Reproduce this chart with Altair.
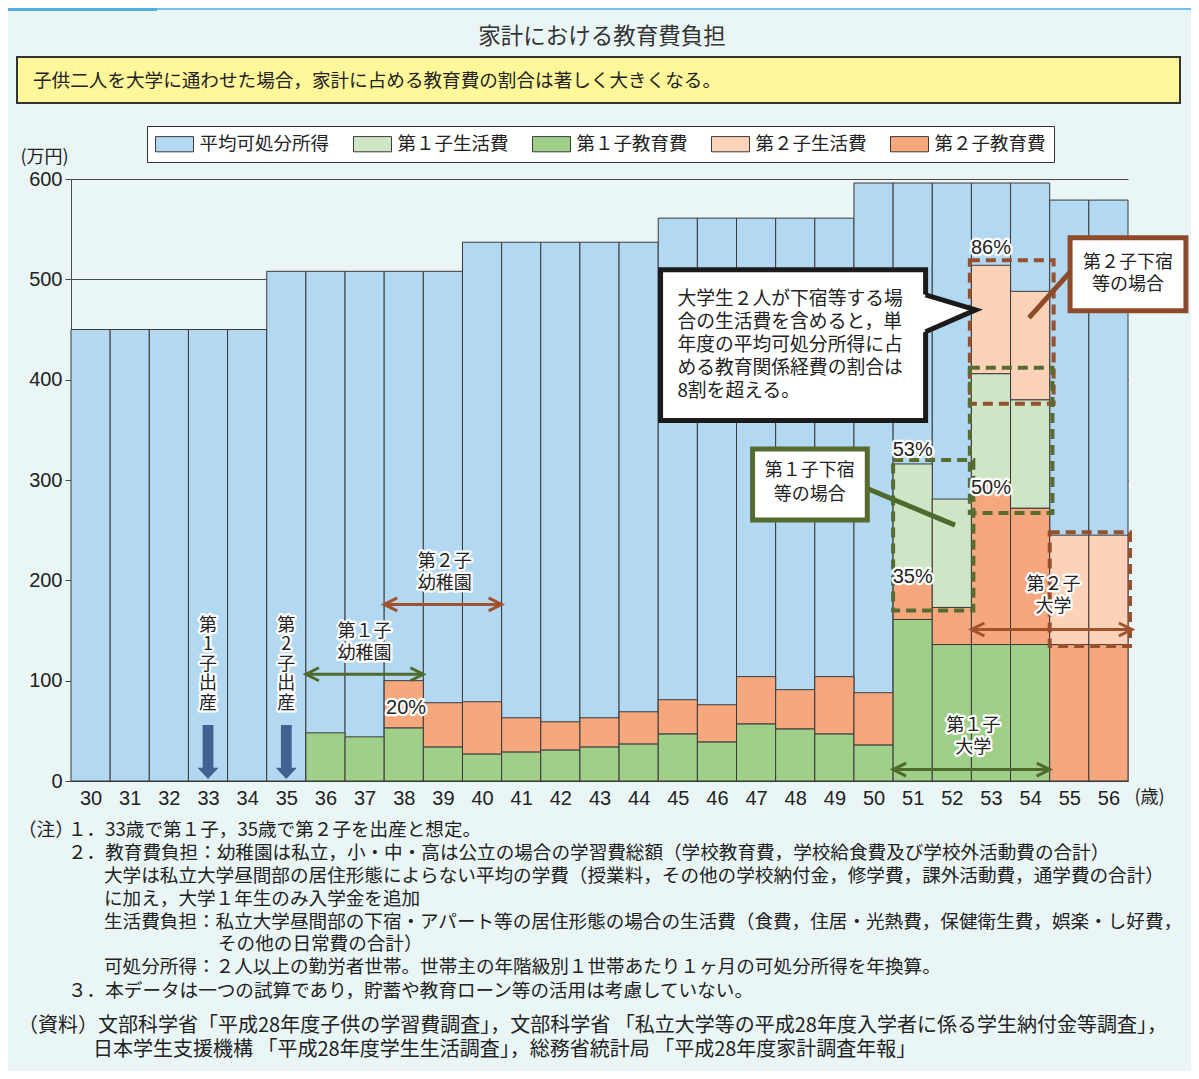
import altair as alt
import pandas as pd

# ---------------- data ----------------
ages = [30, 31, 32, 33, 34, 35, 36, 37, 38, 39, 40, 41, 42, 43, 44, 45, 46, 47, 48, 49,
        50, 51, 52, 53, 54, 55, 56]
income = [450, 450, 450, 450, 450, 508, 508, 508, 508, 508, 537, 537, 537, 537, 537,
          561, 561, 561, 561, 561, 596, 596, 596, 596, 596, 579, 579]
c1_edu = [0, 0, 0, 0, 0, 0, 48, 44, 53, 34, 27, 29, 31, 34, 37, 47, 39, 57, 52, 47,
          36, 161, 136, 136, 136, 0, 0]
c2_edu = [0, 0, 0, 0, 0, 0, 0, 0, 47, 44, 52, 34, 28, 29, 32, 34, 37, 47, 39, 57,
          52, 47, 37, 162, 136, 136, 136]
c1_liv = [0, 0, 0, 0, 0, 0, 0, 0, 0, 0, 0, 0, 0, 0, 0, 0, 0, 0, 0, 0,
          0, 108, 108, 108, 108, 0, 0]
c2_liv = [0, 0, 0, 0, 0, 0, 0, 0, 0, 0, 0, 0, 0, 0, 0, 0, 0, 0, 0, 0,
          0, 0, 0, 108, 108, 109, 109]
categories = ["平均可処分所得", "第１子生活費", "第１子教育費", "第２子生活費", "第２子教育費"]
cat_colors = ["#B3D9F2", "#CFE6C6", "#A0CF8A", "#FCD2B8", "#F5A87D"]
y_ticks = [0, 100, 200, 300, 400, 500, 600]
birth_ages = [33, 35]
pct_labels = ["20%", "53%", "35%", "50%", "86%"]

title_text = "家計における教育費負担"
lead_text = "子供二人を大学に通わせた場合，家計に占める教育費の割合は著しく大きくなる。"
callout_text = "大学生２人が下宿等する場\n合の生活費を含めると，単\n年度の平均可処分所得に占\nめる教育関係経費の割合は\n8割を超える。"
note_lines = [
    "１．33歳で第１子，35歳で第２子を出産と想定。",
    "２．教育費負担：幼稚園は私立，小・中・高は公立の場合の学習費総額（学校教育費，学校給食費及び学校外活動費の合計）",
    "大学は私立大学昼間部の居住形態によらない平均の学費（授業料，その他の学校納付金，修学費，課外活動費，通学費の合計）",
    "に加え，大学１年生のみ入学金を追加",
    "生活費負担：私立大学昼間部の下宿・アパート等の居住形態の場合の生活費（食費，住居・光熱費，保健衛生費，娯楽・し好費，",
    "その他の日常費の合計）",
    "可処分所得：２人以上の勤労者世帯。世帯主の年階級別１世帯あたり１ヶ月の可処分所得を年換算。",
    "３．本データは一つの試算であり，貯蓄や教育ローン等の活用は考慮していない。",
]
source_lines = [
    "（資料）文部科学省「平成28年度子供の学習費調査」，文部科学省 「私立大学等の平成28年度入学者に係る学生納付金等調査」，",
    "日本学生支援機構 「平成28年度学生生活調査」，総務省統計局 「平成28年度家計調査年報」",
]

# ---------------- style ----------------
CJK = "Noto Sans CJK JP"
LAT = "Liberation Sans"
X0, Y0 = 71, 179          # page position of the plot origin
W, H = 1057, 602
BG = "#EAF6F6"
TXT = "#222222"
GREEN_A = "#4F6A2D"
BROWN_A = "#A0522D"
GREEN_D = "#586C30"
BROWN_D = "#94502F"

XS = alt.Scale(domain=[29.5, 56.5], nice=False, zero=False)
YS = alt.Scale(domain=[0, 600], nice=False, zero=False)

XAXIS = alt.Axis(values=ages, format="d", ticks=False, tickSize=0, grid=False,
                 domainColor="#333333", labelFont=LAT, labelFontSize=20, labelColor=TXT,
                 labelPadding=7, labelFlush=False, labelOverlap=False, title=None)
YAXIS = alt.Axis(values=y_ticks, grid=True, gridColor="#4a4a4a", domainColor="#4a4a4a",
                 tickColor="#4a4a4a", tickSize=6, labelFont=LAT, labelFontSize=20,
                 labelColor=TXT, labelPadding=3, labelOverlap=False,
                 title="(万円)", titleAngle=0, titleX=-27, titleY=-22, titleFont=CJK,
                 titleFontSize=18, titleFontWeight="normal", titleColor=TXT,
                 titleAlign="center", titleBaseline="middle")
LEG = alt.Legend(title=None, orient="none", legendX=76, legendY=-53, direction="horizontal",
                 symbolType="M-2,-0.8H2V0.8H-2Z", symbolSize=361, symbolOffset=9.5,
                 symbolStrokeColor="#3a3a3a", symbolStrokeWidth=1, symbolOpacity=1,
                 labelFont=CJK, labelFontSize=18.5, labelColor=TXT, labelOffset=15,
                 columnPadding=21, padding=8, strokeColor="#333333", fillColor="white",
                 labelLimit=300)
color_enc = alt.Color("cat:N", scale=alt.Scale(domain=categories, range=cat_colors), legend=LEG)


def XE(field):
    return alt.X(field, type="quantitative", scale=XS, axis=XAXIS)


def YE(field):
    return alt.Y(field, type="quantitative", scale=YS, axis=YAXIS)


def one():
    return alt.Chart(pd.DataFrame({"k": [0]}))


def pix_rect(x1, y1, x2, y2, **kw):
    return one().mark_rect(**kw).encode(
        x=alt.value(x1 - X0), x2=alt.value(x2 - X0),
        y=alt.value(y1 - Y0), y2=alt.value(y2 - Y0))


def pix_text(x, y, s, size=18.6, font=CJK, align="left", color=TXT):
    return alt.Chart(pd.DataFrame({"t": [s]})).mark_text(
        font=font, fontSize=size, align=align, baseline="middle", color=color).encode(
        x=alt.value(x - X0), y=alt.value(y - Y0), text="t:N")


def data_text(df, size=18, font=CJK, align="center", lh=22, halo=False, color=TXT):
    # y is the centre of the first line
    out = []
    if halo:
        out.append(alt.Chart(df).mark_text(
            font=font, fontSize=size, align=align, baseline="middle", lineBreak="\n",
            lineHeight=lh, fill="white", stroke="white", strokeWidth=4.5,
            strokeJoin="round").encode(x=XE("x"), y=YE("y"), text="t:N"))
    out.append(alt.Chart(df).mark_text(
        font=font, fontSize=size, align=align, baseline="middle", lineBreak="\n",
        lineHeight=lh, fill=color).encode(x=XE("x"), y=YE("y"), text="t:N"))
    return out


def box(df, **kw):
    return alt.Chart(df).mark_rect(**kw).encode(x=XE("x0"), x2="x1:Q", y=YE("y0"), y2="y1:Q")


def seg(df, **kw):
    return alt.Chart(df).mark_line(**kw).encode(x=XE("x"), y=YE("y"), order="o:Q")


layers = []

# income bars (full height)
inc_df = pd.DataFrame({"x0": [a - 0.5 for a in ages], "x1": [a + 0.5 for a in ages],
                       "y0": [0] * len(ages), "y1": income, "cat": categories[0]})
layers.append(alt.Chart(inc_df).mark_rect(stroke="#3a3a3a", strokeWidth=1).encode(
    x=XE("x0"), x2="x1:Q", y=YE("y0"), y2="y1:Q", color=color_enc))

# expense segments stacked from zero
rows = []
for i, a in enumerate(ages):
    base = 0
    for cat, vals in [("第１子教育費", c1_edu), ("第２子教育費", c2_edu),
                      ("第１子生活費", c1_liv), ("第２子生活費", c2_liv)]:
        v = vals[i]
        if v > 0:
            rows.append({"x0": a - 0.5, "x1": a + 0.5, "y0": base, "y1": base + v, "cat": cat})
            base += v
exp_df = pd.DataFrame(rows)
layers.append(alt.Chart(exp_df).mark_rect(stroke="#3a3a3a", strokeWidth=1).encode(
    x=XE("x0"), x2="x1:Q", y=YE("y0"), y2="y1:Q", color=color_enc))

# header decorations
layers.append(pix_rect(8, 8, 1191, 10, color="#6EC3EC"))
layers.append(pix_rect(8, 8, 157, 11, color="#4FAEE0"))
layers.append(pix_text(602, 37, title_text, size=22.5, align="center", color="#333333"))
layers.append(pix_rect(17, 57, 1180, 103, fill="#FFF799", stroke="#333333", strokeWidth=2))
layers.append(pix_text(33, 81, lead_text, size=18.6))

# dashed highlight boxes
dash_df = pd.DataFrame({"x0": [52.46, 54.5, 50.5, 52.46], "x1": [54.6, 56.55, 52.55, 54.57],
                        "y0": [376, 134.5, 170, 267], "y1": [519, 248, 320, 412],
                        "c": [BROWN_D, BROWN_D, GREEN_D, GREEN_D]})
layers.append(alt.Chart(dash_df).mark_rect(filled=False, strokeWidth=4, strokeDash=[10, 6]).encode(
    x=XE("x0"), x2="x1:Q", y=YE("y0"), y2="y1:Q", stroke=alt.Stroke("c:N", scale=None)))

# birth arrows
birth_df = pd.DataFrame({"x": birth_ages, "y": [29, 29]})
layers.append(alt.Chart(birth_df).mark_point(
    shape="M-0.2,-1L0.2,-1L0.2,0.59L0.39,0.59L0,1L-0.39,0.59L-0.2,0.59Z",
    size=2916, filled=True, color="#3F6290", opacity=1, strokeWidth=0).encode(
    x=XE("x"), y=YE("y")))

# period double arrows
arr_df = pd.DataFrame({"xs": [35.5, 37.5, 50.5, 52.5], "xe": [38.5, 40.5, 54.5, 56.6],
                       "y": [106.4, 176, 11.4, 151],
                       "c": [GREEN_A, BROWN_A, GREEN_A, BROWN_A]})
layers.append(alt.Chart(arr_df).mark_rule(strokeWidth=3).encode(
    x=XE("xs"), x2="xe:Q", y=YE("y"), stroke=alt.Stroke("c:N", scale=None)))
layers.append(alt.Chart(arr_df).mark_point(shape="M2,-1L0,0L2,1", size=169, filled=False,
                                           strokeWidth=3, opacity=1).encode(
    x=XE("xs"), y=YE("y"), stroke=alt.Stroke("c:N", scale=None)))
layers.append(alt.Chart(arr_df).mark_point(shape="M-2,-1L0,0L-2,1", size=169, filled=False,
                                           strokeWidth=3, opacity=1).encode(
    x=XE("xe"), y=YE("y"), stroke=alt.Stroke("c:N", scale=None)))

# period labels (y = first line)
lab_df = pd.DataFrame({"x": [37, 39.05, 52.55, 54.6], "y": [148.2, 218.3, 54.8, 195.4],
                       "t": ["第１子\n幼稚園", "第２子\n幼稚園", "第１子\n大学", "第２子\n大学"]})
layers += data_text(lab_df, size=18, lh=22, halo=True)
vert_df = pd.DataFrame({"x": birth_ages, "y": [154.5, 154.5],
                        "t": ["第\n1\n子\n出\n産", "第\n2\n子\n出\n産"]})
layers += data_text(vert_df, size=18, lh=19.5, halo=True)
pct_df = pd.DataFrame({"x": [38.06, 51.0, 51.0, 53.0, 53.0], "y": [72.8, 330, 203.4, 292, 531],
                       "t": pct_labels})
layers += data_text(pct_df, size=20, font=LAT, lh=22, halo=True)

# big callout
layers.append(box(pd.DataFrame({"x0": [44.56], "x1": [51.33], "y0": [359.2], "y1": [509.5]}),
                  fill="white", stroke="#1b1b1b", strokeWidth=5))
layers.append(alt.Chart(pd.DataFrame({"x": [51.2, 52.61], "y": [486.0, 469.6],
                                      "y2": [446.0, 469.6]})).mark_area(color="white").encode(
    x=XE("x"), y=YE("y"), y2="y2:Q"))
layers.append(seg(pd.DataFrame({"x": [51.33, 52.61, 51.33], "y": [484.5, 469.6, 447.7],
                                "o": [0, 1, 2]}),
                  color="#1b1b1b", strokeWidth=5, strokeJoin="miter"))
layers += data_text(pd.DataFrame({"x": [44.99], "y": [480.6], "t": [callout_text]}),
                    size=18.8, align="left", lh=23)

# small callouts
layers.append(seg(pd.DataFrame({"x": [49.5, 52.08], "y": [297, 255], "o": [0, 1]}),
                  color=GREEN_A, strokeWidth=5))
layers.append(box(pd.DataFrame({"x0": [46.91], "x1": [49.84], "y0": [260.2], "y1": [331]}),
                  fill="white", stroke="#566B2E", strokeWidth=5))
layers += data_text(pd.DataFrame({"x": [48.37], "y": [309.1], "t": ["第１子下宿\n等の場合"]}),
                    size=18, lh=24)
layers.append(seg(pd.DataFrame({"x": [55.2, 53.97], "y": [515, 461.6], "o": [0, 1]}),
                  color="#8E4B2B", strokeWidth=5))
layers.append(box(pd.DataFrame({"x0": [55.02], "x1": [57.98], "y0": [468.6], "y1": [541.4]}),
                  fill="white", stroke="#8E4B2B", strokeWidth=5))
layers += data_text(pd.DataFrame({"x": [56.5], "y": [516.4], "t": ["第２子下宿\n等の場合"]}),
                    size=18, lh=22)

# x axis unit
layers += data_text(pd.DataFrame({"x": [57.05], "y": [-17], "t": ["(歳)"]}), size=18)

# notes
layers.append(pix_text(18, 830, "（注）"))
note_pos = [(68, 830), (68, 853), (104, 876), (104, 899), (104, 922), (218, 944),
            (104, 967), (68, 991)]
for (nx, ny), s in zip(note_pos, note_lines):
    layers.append(pix_text(nx, ny, s))
layers.append(pix_text(18, 1026, source_lines[0], size=20))
layers.append(pix_text(93, 1050, source_lines[1], size=20))

chart = alt.layer(*layers).properties(
    width=W, height=H,
    autosize=alt.AutoSizeParams(type="none"),
    padding={"left": 63, "top": 171, "right": 63, "bottom": 290},
).configure(background=BG).configure_view(stroke="transparent")

chart.save("out.html", embed_options={"renderer": "svg", "actions": False})
